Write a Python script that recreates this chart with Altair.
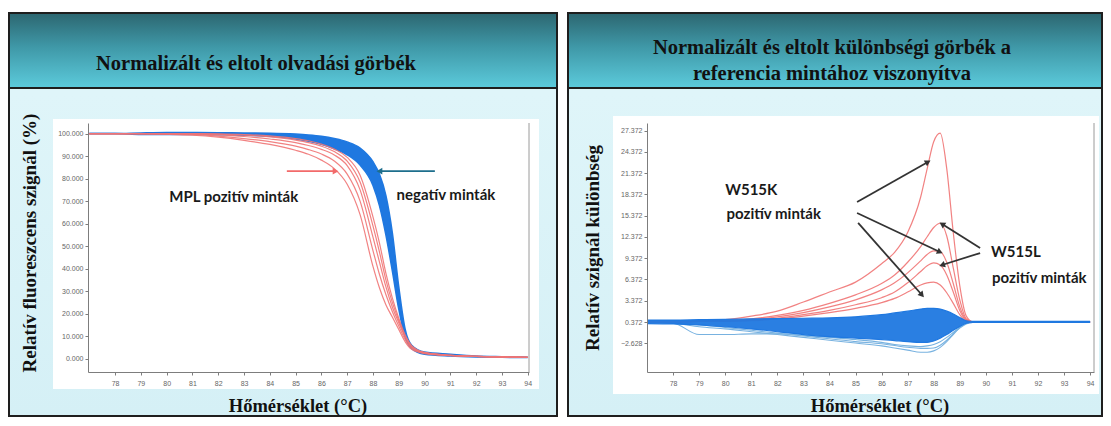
import math
import altair as alt
import pandas as pd

# ---------------- data: left panel (normalised melting curves) ----------------
T_L = [77, 78, 79, 80, 81, 82, 83, 84, 85, 85.5, 86, 86.5, 87, 87.5, 88, 88.25,
       88.5, 88.75, 89, 89.25, 89.5, 90, 91, 92, 93, 94]
neg_upper_L = [100.0, 100.0, 100.3, 100.5, 100.5, 100.4, 100.3, 100.2, 99.8, 99.4, 98.8, 97.8,
               96.3, 93.6, 87.5, 82.0, 72.5, 56.0, 32.0, 13.0, 6.0, 3.0, 2.0, 1.2, 0.9, 0.7]
neg_lower_L = [100.0, 100.0, 99.6, 99.6, 99.6, 99.5, 99.3, 98.8, 97.6, 96.6, 95.2, 93.2,
               90.6, 86.0, 77.0, 68.0, 55.0, 39.0, 22.0, 9.5, 4.5, 2.0, 1.2, 0.8, 0.6, 0.5]
pos_L = {
    "R1": [100, 100, 99.9, 99.7, 99.3, 98.4, 97.0, 95.2, 92.6, 90.8, 88.2, 84.4, 77.5, 64.0,
           41.0, 31.5, 24.0, 18.5, 13.0, 7.5, 4.2, 2.3, 1.4, 1.0, 0.8, 0.6],
    "R2": [100, 100, 100, 99.8, 99.6, 98.9, 97.8, 96.4, 94.4, 92.9, 90.9, 87.8, 82.0, 70.0,
           48.0, 37.5, 28.5, 21.0, 14.5, 8.5, 4.8, 2.5, 1.5, 1.0, 0.8, 0.6],
    "R3": [100, 100, 100, 99.9, 99.8, 99.4, 98.7, 97.6, 96.0, 94.7, 93.0, 90.5, 85.8, 75.0,
           54.0, 43.0, 32.0, 23.0, 16.0, 9.5, 5.2, 2.6, 1.5, 1.0, 0.8, 0.6],
    "R4": [100, 100, 100, 100, 99.9, 99.7, 99.3, 98.5, 97.1, 96.0, 94.4, 92.0, 87.8, 78.5,
           59.0, 47.5, 35.0, 25.0, 17.0, 10.0, 5.5, 2.7, 1.5, 1.0, 0.8, 0.6],
    "R5": [100, 100, 100, 100, 100, 99.9, 99.6, 99.0, 97.8, 96.8, 95.3, 93.1, 89.4, 81.5,
           63.0, 51.5, 38.0, 27.0, 18.0, 10.5, 5.8, 2.8, 1.5, 1.0, 0.8, 0.6],
}
ref_T_L = [77.0, 78.6]
ref_v_L = [100.0, 100.0]

# ---------------- data: right panel (difference curves) ----------------
T_R = [77, 78, 79, 80, 81, 82, 83, 84, 85, 86, 86.5, 87, 87.5, 87.75, 88, 88.25,
       88.5, 88.75, 89, 89.25, 89.5, 90, 91, 92, 93, 94]
neg_upper_R = [0.65, 0.65, 0.7, 0.75, 0.8, 0.85, 0.9, 0.95, 1.1, 1.4, 1.65, 1.9, 2.2, 2.3,
               2.3, 2.2, 1.9, 1.5, 1.0, 0.55, 0.45, 0.45, 0.45, 0.45, 0.45, 0.45]
neg_lower_R = [0.15, 0.1, -0.05, -0.3, -0.6, -1.0, -1.4, -1.7, -1.9, -2.1, -2.25, -2.4, -2.5,
               -2.5, -2.3, -1.9, -1.4, -0.8, -0.25, 0.2, 0.3, 0.3, 0.3, 0.3, 0.3, 0.3]
neg_light_R = {
    "L1": [0.3, 0.2, -0.3, -0.6, -1.0, -1.4, -1.8, -2.2, -2.6, -3.0, -3.3, -3.6, -3.9, -3.9,
           -3.7, -3.2, -2.4, -1.4, -0.4, 0.2, 0.35, 0.372, 0.372, 0.372, 0.372, 0.372],
    "L2": [0.3, 0.2, 0.0, -0.4, -0.8, -1.2, -1.6, -2.0, -2.4, -2.7, -2.95, -3.2, -3.35, -3.35,
           -3.3, -2.9, -2.2, -1.3, -0.5, 0.1, 0.3, 0.372, 0.372, 0.372, 0.372, 0.372],
    "L3": [0.3, 0.2, -1.4, -1.4, -1.3, -1.3, -1.5, -1.8, -2.1, -2.5, -2.8, -3.0, -3.1, -3.0,
           -2.8, -2.4, -1.8, -1.1, -0.4, 0.2, 0.35, 0.372, 0.372, 0.372, 0.372, 0.372],
}
pos_R = {
    "K1": [0.4, 0.4, 0.5, 0.7, 1.2, 1.9, 3.2, 4.6, 6.0, 8.6, 10.2, 13.0, 18.0, 22.0, 25.8,
           27.0, 22.0, 13.0, 5.5, 1.2, 0.4, 0.372, 0.372, 0.372, 0.372, 0.372],
    "K2": [0.4, 0.4, 0.45, 0.5, 0.8, 1.3, 2.0, 3.0, 4.2, 5.8, 7.0, 8.8, 11.0, 12.4, 13.7,
           14.3, 12.5, 8.0, 3.5, 0.8, 0.4, 0.372, 0.372, 0.372, 0.372, 0.372],
    "K3": [0.4, 0.4, 0.45, 0.5, 0.7, 1.1, 1.7, 2.5, 3.5, 4.9, 5.9, 7.3, 9.0, 9.9, 10.4,
           10.3, 8.8, 5.8, 2.5, 0.7, 0.4, 0.372, 0.372, 0.372, 0.372, 0.372],
    "K4": [0.4, 0.4, 0.45, 0.5, 0.6, 0.9, 1.4, 2.0, 2.8, 3.8, 4.6, 5.9, 7.5, 8.3, 8.7,
           8.4, 7.0, 4.6, 2.0, 0.6, 0.4, 0.372, 0.372, 0.372, 0.372, 0.372],
    "K5": [0.4, 0.4, 0.45, 0.5, 0.55, 0.8, 1.2, 1.7, 2.3, 3.1, 3.7, 4.6, 5.6, 5.9, 6.0,
           5.6, 4.5, 3.0, 1.4, 0.5, 0.4, 0.372, 0.372, 0.372, 0.372, 0.372],
}

# ---------------- ticks and text ----------------
x_ticks = list(range(78, 95))
y_ticks_L = [0, 10, 20, 30, 40, 50, 60, 70, 80, 90, 100]
y_ticks_R = [-2.628, 0.372, 3.372, 6.372, 9.372, 12.372, 15.372, 18.372, 21.372, 24.372, 27.372]

title_L = "Normalizált és eltolt olvadási görbék"
title_R = ["Normalizált és eltolt különbségi görbék a", "referencia mintához viszonyítva"]
xtitle = "Hőmérséklet (°C)"
ytitle_L = "Relatív fluoreszcens szignál (%)"
ytitle_R = "Relatív szignál különbség"

# annotations (data coordinates)
notes_L = pd.DataFrame({"T": [82.6, 90.83], "v": [71.8, 72.7],
                        "txt": ["MPL pozitív minták", "negatív minták"]})
arrows_L = pd.DataFrame({"t1": [84.66, 90.40], "v1": [83.3, 83.3],
                         "t2": [86.55, 88.25], "v2": [83.3, 83.3],
                         "c": ["#f26a6a", "#1d6e8c"]})
notes_R = pd.DataFrame({"T": [80.0, 80.05, 90.2, 90.24], "v": [19.0, 15.6, 10.3, 6.6],
                        "txt": ["W515K", "pozitív minták", "W515L", "pozitív minták"]})
arrows_R = pd.DataFrame({"t1": [85.06, 85.06, 85.10, 89.78, 89.78],
                         "v1": [17.3, 15.75, 14.34, 10.81, 10.10],
                         "t2": [87.78, 88.24, 87.55, 88.32, 88.32],
                         "v2": [22.94, 10.25, 4.18, 14.19, 8.41],
                         "c": ["#333333"] * 5})

# ---------------- layout / style ----------------
H = 249
W_L, W_R = 441, 447
XD_L, YD_L = [76.95, 94.05], [-5.9, 104.7]
XD_R, YD_R = [77.0, 94.15], [-6.68, 28.44]

BLUE = "#1f78e0"
RED = "#f07474"
SERIF = "Liberation Serif"
ANNOT = "Lato"

header_grad = alt.LinearGradient(
    gradient="linear", x1=0, x2=0, y1=0, y2=1,
    stops=[alt.GradientStop(color="#2c6670", offset=0),
           alt.GradientStop(color="#3f98a7", offset=0.45),
           alt.GradientStop(color="#5ccbdc", offset=1)])
body_grad = alt.LinearGradient(
    gradient="linear", x1=0, x2=0, y1=0, y2=1,
    stops=[alt.GradientStop(color="#dff5f9", offset=0.2),
           alt.GradientStop(color="#d5f0f6", offset=1)])

one = pd.DataFrame({"k": [0]})


def axis_x():
    return alt.Axis(values=x_ticks, format="d", title=None, grid=False, zindex=1,
                    domainColor="#7d7d7d", tickColor="#7d7d7d", tickSize=3,
                    labelFontSize=7, labelColor="#666666", labelFont="Liberation Sans",
                    labelPadding=4)


def axis_y(vals):
    return alt.Axis(values=vals, format=".3f", title=None, grid=False, zindex=1,
                    domainColor="#7d7d7d", tickColor="#7d7d7d", tickSize=3,
                    labelFontSize=7, labelColor="#666666", labelFont="Liberation Sans",
                    labelPadding=2)


def head_angle(t1, v1, t2, v2, pxT, pxV):
    dx = (t2 - t1) * pxT
    dy = -(v2 - v1) * pxV
    return math.degrees(math.atan2(dx, -dy)) % 360


def build_panel(W, xdom, ydom, yticks, box_x2, white, htexts, ytitle, ytitle_xy, xtitle_x,
                curve_layers, notes, arrows, note_align):
    pxT = W / (xdom[1] - xdom[0])
    pxV = H / (ydom[1] - ydom[0])
    X = lambda f: alt.X(f, type="quantitative", scale=alt.Scale(domain=xdom, nice=False, zero=False), axis=axis_x())
    Y = lambda f: alt.Y(f, type="quantitative", scale=alt.Scale(domain=ydom, nice=False, zero=False), axis=axis_y(yticks))

    deco = alt.Chart(one)
    body = deco.mark_rect(fill=body_grad, stroke="#1e1e1e", strokeWidth=2).encode(
        x=alt.value(-79), x2=alt.value(box_x2), y=alt.value(-110), y2=alt.value(293))
    header = deco.mark_rect(fill=header_grad, stroke="#1e1e1e", strokeWidth=2).encode(
        x=alt.value(-79), x2=alt.value(box_x2), y=alt.value(-110), y2=alt.value(-35))
    wbg = deco.mark_rect(fill="white").encode(
        x=alt.value(white[0]), x2=alt.value(white[1]), y=alt.value(white[2]), y2=alt.value(white[3]))
    layers = [body, header, wbg]
    for (tx, ty, s) in htexts:
        layers.append(deco.mark_text(font=SERIF, fontWeight="bold", fontSize=20.5, color="#111111",
                                     align="center", baseline="alphabetic").encode(
            x=alt.value(tx), y=alt.value(ty), text=alt.value(s)))
    layers.append(deco.mark_text(font=SERIF, fontWeight="bold", fontSize=18.5, color="#111111",
                                 align="center", baseline="alphabetic").encode(
        x=alt.value(xtitle_x), y=alt.value(289), text=alt.value(xtitle)))
    layers.append(deco.mark_text(font=SERIF, fontWeight="bold", fontSize=19, color="#111111",
                                 align="center", baseline="middle", angle=270).encode(
        x=alt.value(ytitle_xy[0]), y=alt.value(ytitle_xy[1]), text=alt.value(ytitle)))

    for kind, df, style in curve_layers:
        if kind == "area":
            layers.append(alt.Chart(df).mark_area(interpolate="monotone", **style).encode(
                x=X("T"), y=Y("lo"), y2="hi"))
        else:
            layers.append(alt.Chart(df).mark_line(interpolate="monotone", **style).encode(
                x=X("T"), y=Y("v"), detail="curve:N"))

    layers.append(alt.Chart(notes).mark_text(font=ANNOT, fontWeight="bold", fontSize=15,
                                             color="#1a1a1a", align=note_align,
                                             baseline="middle").encode(
        x=X("T"), y=Y("v"), text="txt:N"))
    arr = arrows.copy()
    arr["ang"] = [head_angle(a, b, c, d, pxT, pxV)
                  for a, b, c, d in zip(arr.t1, arr.v1, arr.t2, arr.v2)]
    layers.append(alt.Chart(arr).mark_rule(strokeWidth=1.8).encode(
        x=X("t1"), y=Y("v1"), x2="t2", y2="v2", color=alt.Color("c:N", scale=None)))
    layers.append(alt.Chart(arr).mark_point(shape="triangle-up", filled=True, size=45,
                                            opacity=1).encode(
        x=X("t2"), y=Y("v2"), angle=alt.Angle("ang:Q", scale=None),
        color=alt.Color("c:N", scale=None)))
    layers.append(deco.mark_rule(color="#9a9a9a", strokeWidth=1).encode(
        x=alt.value(W), y=alt.value(0), y2=alt.value(H)))
    return alt.layer(*layers).properties(width=W, height=H)


def long(T, d):
    rows = []
    for k, vals in d.items():
        for t, v in zip(T, vals):
            rows.append({"T": t, "v": v, "curve": k})
    return pd.DataFrame(rows)


band_L = pd.DataFrame({"T": T_L, "lo": neg_lower_L, "hi": neg_upper_L})
edge_L = long(T_L, {"up": neg_upper_L, "low": neg_lower_L})
ref_L = pd.DataFrame({"T": ref_T_L, "v": ref_v_L, "curve": ["ref", "ref"]})
red_L = long(T_L, pos_L)

left = build_panel(
    W_L, XD_L, YD_L, y_ticks_L, 469, (-35, 451, -4, 266),
    [(168, -53, title_L)], ytitle_L, (-58, 120), 210,
    [("area", band_L, {"color": BLUE}),
     ("line", edge_L, {"color": BLUE, "strokeWidth": 1.5}),
     ("line", ref_L, {"color": "#8f86b8", "strokeWidth": 1.3}),
     ("line", red_L, {"color": RED, "strokeWidth": 1.2, "opacity": 0.9})],
    notes_L, arrows_L, "center")

band_R = pd.DataFrame({"T": T_R, "lo": neg_lower_R, "hi": neg_upper_R})
edge_R = long(T_R, {"up": neg_upper_R, "low": neg_lower_R})
light_R = long(T_R, neg_light_R)
red_R = long(T_R, pos_R)

right = build_panel(
    W_R, XD_R, YD_R, y_ticks_R, 455, (-34, 452, -7, 271),
    [(185, -69, title_R[0]), (185, -43, title_R[1])], ytitle_R, (-54, 125), 233,
    [("line", light_R, {"color": "#78b2e0", "strokeWidth": 1.1}),
     ("line", red_R, {"color": RED, "strokeWidth": 1.2, "opacity": 0.9}),
     ("area", band_R, {"color": BLUE, "opacity": 0.95}),
     ("line", edge_R, {"color": BLUE, "strokeWidth": 1.2})],
    notes_R, arrows_R, "left")

chart = alt.hconcat(left, right, spacing=9).properties(
    padding={"left": 0, "top": 4, "right": 0, "bottom": 0},
    background="white",
).configure_view(stroke=None)

chart.save("out.html", embed_options={"renderer": "svg", "actions": False})
